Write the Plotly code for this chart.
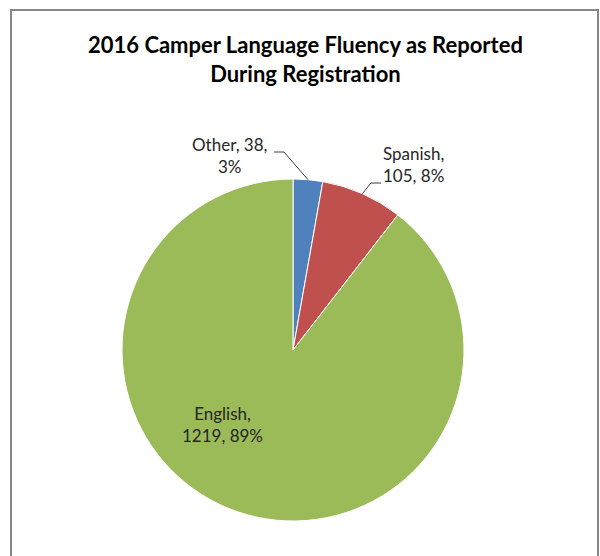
import math
import plotly.graph_objects as go

# ---- data ----
categories = ["Other", "Spanish", "English"]
values = [38, 105, 1219]
percents = [3, 8, 89]
colors = ["#4F81BD", "#C0504D", "#9BBB59"]
title_text = "2016 Camper Language Fluency as Reported<br>During Registration"

W, H = 600, 556
CX, CY, R = 293, 350, 171  # pie centre / radius in pixels


def px(x, y):
    return x / W, 1 - y / H


total = sum(values)
labels_txt = [f"{c},<br>{v}, {p}%" for c, v, p in zip(categories, values, percents)]
labels_txt[0] = f"{categories[0]}, {values[0]},<br>{percents[0]}%"

# mid-angle of each slice (clockwise from 12 o'clock)
mids = []
acc = 0
for v in values:
    ang = v / total * 360
    mids.append(acc + ang / 2)
    acc += ang


def edge(angle_deg, r=R):
    a = math.radians(angle_deg)
    return CX + r * math.sin(a), CY - r * math.cos(a)


fig = go.Figure()
fig.add_trace(go.Pie(
    labels=categories, values=values, sort=False, direction="clockwise",
    rotation=0, marker=dict(colors=colors, line=dict(color="white", width=1)),
    textinfo="none", hoverinfo="label+value+percent", showlegend=False,
    domain=dict(x=[(CX - R) / W, (CX + R) / W], y=[1 - (CY + R) / H, 1 - (CY - R) / H]),
))

font_lbl = dict(family="Lato, Calibri, sans-serif", size=17, color="#262626")
annotations = []
shapes = []


def label(x, y, text, font):
    p = px(x, y)
    annotations.append(dict(x=p[0], y=p[1], xref="paper", yref="paper", text=text,
                            showarrow=False, font=font, align="center",
                            xanchor="center", yanchor="middle"))


# Other label (outside, leader line)
ox, oy = edge(mids[0])
label(229, 155, labels_txt[0], font_lbl)
p0 = px(274, 152); p1 = px(284, 152); p2 = px(ox, oy)
shapes.append(dict(type="path", xref="paper", yref="paper",
                   path=f"M {p0[0]},{p0[1]} L {p1[0]},{p1[1]} L {p2[0]},{p2[1]}",
                   line=dict(color="#404040", width=1)))

# Spanish label (outside, leader line)
sx, sy = edge(mids[1])
label(414, 165, labels_txt[1], font_lbl)
q0 = px(sx, sy); q1 = px(371, 183); q2 = px(381, 183)
shapes.append(dict(type="path", xref="paper", yref="paper",
                   path=f"M {q0[0]},{q0[1]} L {q1[0]},{q1[1]} L {q2[0]},{q2[1]}",
                   line=dict(color="#404040", width=1)))

# English label (inside)
label(222, 424, labels_txt[2], font_lbl)

# Title
label(305, 59, "<b>" + title_text + "</b>",
      dict(family="Lato, Calibri, sans-serif", size=22, color="#000000"))

# chart border
b0 = px(11, 10); b1 = px(598, 570)
shapes.append(dict(type="rect", xref="paper", yref="paper", x0=b0[0], y0=b0[1], x1=b1[0], y1=b1[1],
                   line=dict(color="#868686", width=2), fillcolor="rgba(0,0,0,0)", layer="above"))

fig.update_layout(width=W, height=H, margin=dict(l=0, r=0, t=0, b=0),
                  paper_bgcolor="white", plot_bgcolor="white",
                  annotations=annotations, shapes=shapes)

fig.write_html("out.html")
